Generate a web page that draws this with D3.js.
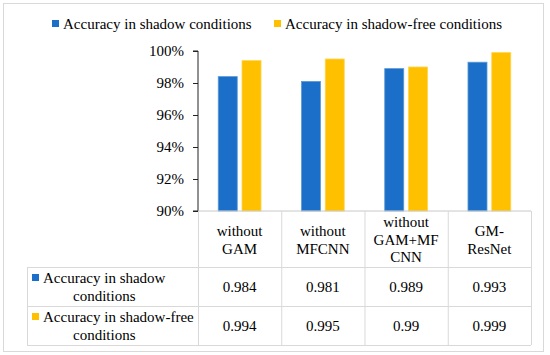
<!DOCTYPE html>
<html>
<head>
<meta charset="utf-8">
<script src="https://cdn.jsdelivr.net/npm/d3@7"></script>
<style>
  body { margin: 0; background: #fff; }
</style>
</head>
<body>
<div id="chart"></div>
<script>
// data
var categories = ["without GAM", "without MFCNN", "without GAM+MF CNN", "GM-ResNet"];
var headerLines = [["without", "GAM"], ["without", "MFCNN"], ["without", "GAM+MF", "CNN"], ["GM-", "ResNet"]];
var seriesNames = ["Accuracy in shadow conditions", "Accuracy in shadow-free conditions"];
var shadow = [0.984, 0.981, 0.989, 0.993];
var shadowFree = [0.994, 0.995, 0.99, 0.999];
var yTicks = [0.90, 0.92, 0.94, 0.96, 0.98, 1.00];
var colors = ["#1b6fc8", "#ffc000"];

var W = 550, H = 355;
var FONT = "Liberation Serif";
var plot = {left: 198, right: 531, top: 51, bottom: 211};
var rowY = [211, 267, 306, 345];   // table row edges
var tableLeft = 27;
var gridColor = "#d9d9d9";

var svg = d3.select("#chart")
  .append("svg")
    .attr("width", W)
    .attr("height", H);

function label(x, yy, t, anchor) {
  return svg.append("text")
    .attr("x", x)
    .attr("y", yy)
    .attr("dy", "0.35em")
    .attr("text-anchor", anchor || "start")
    .style("font-family", FONT)
    .style("font-size", "15px")
    .attr("fill", "#000")
    .text(t);
}

// outer frame
svg.append("rect")
  .attr("x", 3.5).attr("y", 3.5)
  .attr("width", 540).attr("height", 348)
  .attr("fill", "#fff")
  .attr("stroke", gridColor);

// scales
var x0 = d3.scaleBand()
  .domain(categories)
  .range([plot.left, plot.right]);

var x1 = d3.scaleBand()
  .domain([0, 1])
  .range([x0.bandwidth() * 0.243, x0.bandwidth() * 0.757])
  .paddingInner(0.2);

var y = d3.scaleLinear()
  .domain([0.9, 1.0])
  .range([plot.bottom, plot.top]);

// bars
var data = categories.map(function(c, i) {
  return {cat: c, values: [shadow[i], shadowFree[i]]};
});

var groups = svg.selectAll(".grp")
  .data(data)
  .enter()
  .append("g")
    .attr("class", "grp")
    .attr("transform", function(d) { return "translate(" + x0(d.cat) + ",0)"; });

groups.selectAll("rect")
  .data(function(d) { return d.values.map(function(v, k) { return {k: k, v: v}; }); })
  .enter()
  .append("rect")
    .attr("x", function(d) { return x1(d.k); })
    .attr("y", function(d) { return y(d.v); })
    .attr("width", x1.bandwidth())
    .attr("height", function(d) { return y(0.9) - y(d.v); })
    .attr("fill", function(d) { return colors[d.k]; })
    .attr("stroke", function(d) { return d.k === 0 ? "#5b9bd5" : "#ffd54f"; })
    .attr("stroke-width", 0.8);

// y axis
var yAxis = svg.append("g")
  .attr("transform", "translate(" + plot.left + ",0)")
  .call(d3.axisLeft(y).tickValues(yTicks).tickFormat(d3.format(".0%")).tickSize(5).tickPadding(9));
yAxis.select(".domain").attr("stroke", "#222").attr("d", "M-5," + y(1.0) + "H0V" + y(0.9) + "H-5");
yAxis.selectAll(".tick line").attr("stroke", "#222");
yAxis.selectAll(".tick text")
  .style("font-size", "15px")
  .style("font-family", FONT)
  .attr("fill", "#000");

// table grid
var tg = svg.append("g").attr("stroke", gridColor).attr("fill", "none");
tg.append("line").attr("x1", plot.left).attr("x2", plot.right).attr("y1", rowY[0]).attr("y2", rowY[0]).attr("stroke", "#c8c8c8");
rowY.slice(1).forEach(function(yy) {
  tg.append("line").attr("x1", tableLeft).attr("x2", plot.right).attr("y1", yy + 0.5).attr("y2", yy + 0.5);
});
categories.forEach(function(c) {
  tg.append("line").attr("x1", x0(c) + 0.5).attr("x2", x0(c) + 0.5).attr("y1", rowY[0]).attr("y2", rowY[3]);
});
tg.append("line").attr("x1", plot.right + 0.5).attr("x2", plot.right + 0.5).attr("y1", rowY[0]).attr("y2", rowY[3]);
tg.append("line").attr("x1", tableLeft + 0.5).attr("x2", tableLeft + 0.5).attr("y1", rowY[1]).attr("y2", rowY[3]);

// header labels
var lineH = 17.5;
categories.forEach(function(c, i) {
  var lines = headerLines[i];
  var cy = (rowY[0] + rowY[1]) / 2 + 0.5;
  lines.forEach(function(t, j) {
    label(x0(c) + x0.bandwidth() / 2, cy + (j - (lines.length - 1) / 2) * lineH, t, "middle");
  });
});

// value cells
[shadow, shadowFree].forEach(function(vals, r) {
  var cy = (rowY[r + 1] + rowY[r + 2]) / 2;
  vals.forEach(function(v, i) {
    label(x0(categories[i]) + x0.bandwidth() / 2, cy, String(v), "middle");
  });
});

// row labels with keys
var rowLabels = [["Accuracy in shadow", "conditions"], ["Accuracy in shadow-free", "conditions"]];
rowLabels.forEach(function(lines, r) {
  var cy = (rowY[r + 1] + rowY[r + 2]) / 2;
  svg.append("rect")
    .attr("x", 32).attr("y", cy - 12.5)
    .attr("width", 7).attr("height", 7)
    .attr("fill", colors[r]);
  label(43, cy - 9, lines[0]);
  label(73, cy + 9, lines[1]);
});

// legend
var legendX = [52, 274];
seriesNames.forEach(function(name, k) {
  svg.append("rect")
    .attr("x", legendX[k]).attr("y", 20)
    .attr("width", 7).attr("height", 7)
    .attr("fill", colors[k]);
  label(legendX[k] + 11, 23.5, name);
});
</script>
</body>
</html>
